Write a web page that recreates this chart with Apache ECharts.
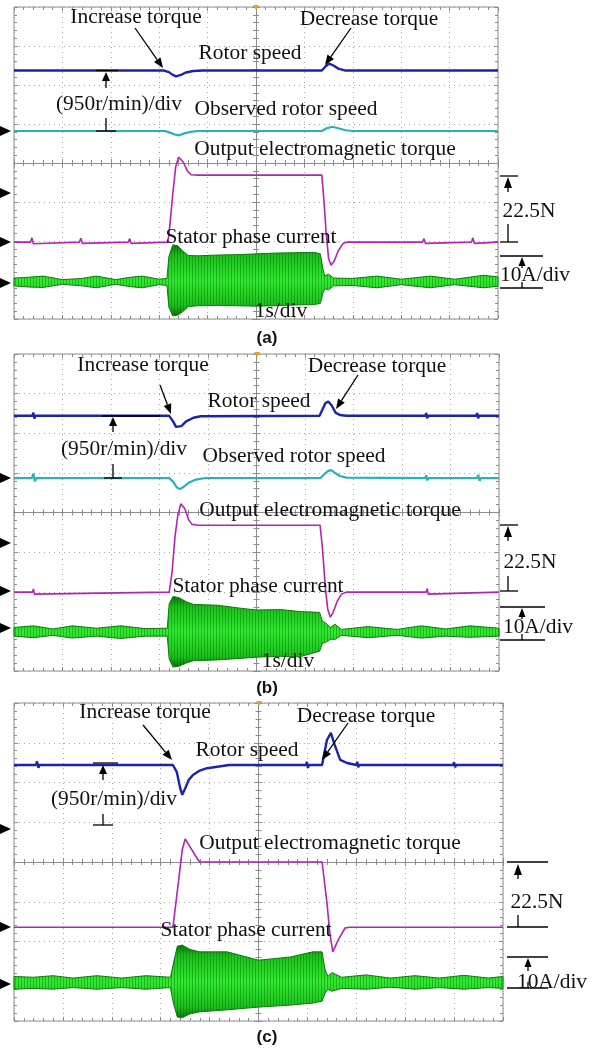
<!DOCTYPE html>
<html>
<head>
<meta charset="utf-8">
<script src="https://cdn.jsdelivr.net/npm/echarts@6/dist/echarts.min.js"></script>
<style>
html, body { margin: 0; padding: 0; background: #fff; }
#chart { width: 594px; height: 1048px; }
</style>
</head>
<body>
<div id="chart"></div>
<script>
// time in s (1 s/div, 0 = screen centre), values in scope divisions (0 = centre line)

// ---- (a)
var speedA = [[-5, 2.37], [-1.9, 2.37], [-1.8, 2.33], [-1.72, 2.26], [-1.65, 2.22], [-1.55, 2.26], [-1.45, 2.32], [-1.3, 2.36], [-1.1, 2.37],
  [1.36, 2.37], [1.44, 2.48], [1.51, 2.55], [1.6, 2.5], [1.7, 2.42], [1.85, 2.37], [5, 2.37]];
var observedA = [[-5, 0.82], [-1.88, 0.82], [-1.78, 0.78], [-1.68, 0.73], [-1.59, 0.71], [-1.48, 0.76], [-1.35, 0.8], [-1.2, 0.82],
  [1.36, 0.82], [1.46, 0.89], [1.58, 0.93], [1.7, 0.89], [1.85, 0.84], [2.0, 0.82], [5, 0.82]];
var torqueA = [[-5, -2.03], [-4.66, -2.03], [-4.63, -1.92], [-4.6, -2.07], [-4.57, -2.03], [-3.65, -2.03], [-3.62, -1.93], [-3.59, -2.06],
  [-3.56, -2.03], [-2.64, -2.03], [-2.61, -1.94], [-2.58, -2.06], [-2.55, -2.03], [-1.82, -2.03], [-1.78, -1.6], [-1.72, -0.8],
  [-1.66, -0.1], [-1.6, 0.15], [-1.56, 0.18], [-1.5, 0.02], [-1.42, -0.2], [-1.34, -0.3], [-1.2, -0.31], [1.36, -0.31],
  [1.4, -0.9], [1.45, -1.8], [1.5, -2.45], [1.55, -2.62], [1.62, -2.5], [1.7, -2.25], [1.8, -2.06], [1.88, -2.03], [3.44, -2.03],
  [3.47, -1.94], [3.5, -2.06], [3.53, -2.03], [4.45, -2.03], [4.48, -1.92], [4.51, -2.06], [4.54, -2.03], [5, -2.03]];
// [time, upper envelope, lower envelope]
var currentA = [[-5, -2.95, -3.15], [-4.7, -2.93, -3.18], [-4.4, -2.9, -3.19], [-4.0, -2.99, -3.11], [-3.6, -2.96, -3.15],
  [-3.3, -2.9, -3.2], [-2.9, -2.99, -3.11], [-2.6, -2.93, -3.17], [-2.35, -2.9, -3.2], [-2.0, -2.98, -3.12], [-1.84, -2.96, -3.14],
  [-1.8, -2.4, -3.7], [-1.72, -2.1, -3.92], [-1.62, -2.12, -3.9], [-1.52, -2.25, -3.82], [-1.4, -2.37, -3.68], [-1.2, -2.38, -3.66],
  [-0.8, -2.36, -3.65], [-0.4, -2.35, -3.66], [0, -2.33, -3.67], [0.4, -2.31, -3.66], [0.8, -2.3, -3.64], [1.2, -2.29, -3.63],
  [1.33, -2.33, -3.6], [1.38, -2.7, -3.35], [1.42, -2.9, -3.22], [1.5, -2.85, -3.25], [1.6, -2.95, -3.15], [2.0, -2.96, -3.14],
  [2.5, -2.9, -3.2], [3.0, -2.98, -3.12], [3.6, -2.9, -3.2], [4.1, -2.98, -3.12], [4.7, -2.88, -3.2], [5, -2.92, -3.16]];

// ---- (b)
var speedB = [[-5, 2.44], [-4.62, 2.44], [-4.6, 2.52], [-4.58, 2.37], [-4.56, 2.44], [-1.8, 2.44], [-1.72, 2.3], [-1.66, 2.16],
  [-1.62, 2.12], [-1.55, 2.18], [-1.45, 2.3], [-1.3, 2.39], [-1.15, 2.43], [1.3, 2.44], [1.36, 2.6], [1.42, 2.76], [1.48, 2.8],
  [1.55, 2.7], [1.63, 2.52], [1.72, 2.46], [1.85, 2.44], [3.48, 2.44], [3.5, 2.51], [3.52, 2.38], [3.54, 2.44], [4.53, 2.44],
  [4.55, 2.51], [4.57, 2.38], [4.59, 2.44], [5, 2.44]];
var observedB = [[-5, 0.87], [-4.63, 0.87], [-4.6, 0.98], [-4.57, 0.79], [-4.54, 0.87], [-1.8, 0.87], [-1.72, 0.78], [-1.64, 0.63],
  [-1.58, 0.59], [-1.5, 0.65], [-1.4, 0.75], [-1.25, 0.83], [-1.05, 0.87], [1.32, 0.87], [1.4, 0.97], [1.48, 1.05], [1.54, 1.07],
  [1.62, 1.0], [1.72, 0.92], [1.85, 0.88], [3.48, 0.87], [3.5, 0.94], [3.52, 0.81], [3.55, 0.87], [4.55, 0.87], [4.57, 0.95],
  [4.6, 0.8], [4.62, 0.87], [5, 0.87]];
var torqueB = [[-5, -2.01], [-4.62, -2.01], [-4.6, -1.93], [-4.58, -2.06], [-4.56, -2.01], [-1.8, -2.01], [-1.74, -1.5], [-1.68, -0.6],
  [-1.62, -0.05], [-1.56, 0.22], [-1.53, 0.27], [-1.48, 0.1], [-1.4, -0.18], [-1.33, -0.3], [-1.2, -0.32], [1.31, -0.32],
  [1.36, -0.9], [1.42, -1.9], [1.47, -2.45], [1.52, -2.64], [1.58, -2.52], [1.66, -2.25], [1.75, -2.06], [1.85, -2.01],
  [3.5, -2.01], [3.52, -1.92], [3.54, -2.06], [3.56, -2.01], [5, -2.01]];
var currentB = [[-5, -2.9, -3.12], [-4.6, -2.86, -3.16], [-4.2, -2.94, -3.1], [-3.8, -2.86, -3.17], [-3.3, -2.92, -3.12],
  [-2.8, -2.86, -3.18], [-2.3, -2.93, -3.12], [-1.84, -2.92, -3.12], [-1.8, -2.3, -3.7], [-1.72, -2.12, -3.9], [-1.6, -2.15, -3.88],
  [-1.45, -2.25, -3.8], [-1.3, -2.32, -3.74], [-0.8, -2.34, -3.72], [-0.3, -2.42, -3.68], [0, -2.46, -3.65], [0.5, -2.45, -3.63],
  [0.9, -2.5, -3.64], [1.3, -2.52, -3.5], [1.36, -2.75, -3.3], [1.42, -2.78, -3.28], [1.52, -2.9, -3.2], [1.62, -2.82, -3.2],
  [1.75, -2.95, -3.1], [2.3, -2.88, -3.16], [2.9, -2.95, -3.1], [3.4, -2.86, -3.17], [3.9, -2.94, -3.12], [4.4, -2.86, -3.15],
  [5, -2.92, -3.12]];

// ---- (c)
var speedC = [[-5, 2.44], [-4.55, 2.44], [-4.53, 2.53], [-4.5, 2.37], [-4.48, 2.44], [-1.75, 2.44], [-1.67, 2.26], [-1.6, 1.85],
  [-1.56, 1.69], [-1.5, 1.85], [-1.43, 2.06], [-1.34, 2.19], [-1.2, 2.3], [-1.05, 2.36], [-0.6, 2.44], [0.97, 2.44], [0.99, 2.52],
  [1.01, 2.37], [1.03, 2.44], [1.3, 2.44], [1.4, 3.07], [1.48, 3.25], [1.56, 2.94], [1.67, 2.57], [1.81, 2.49], [2.0, 2.44],
  [2.02, 2.52], [2.04, 2.38], [2.06, 2.44], [3.98, 2.44], [4.0, 2.51], [4.02, 2.38], [4.04, 2.44], [5, 2.44]];
var torqueC = [[-5, -1.64], [-1.75, -1.64], [-1.65, -0.63], [-1.56, 0.3], [-1.5, 0.58], [-1.4, 0.38], [-1.26, 0.1], [-1.2, 0.0],
  [1.3, 0.0], [1.4, -1.03], [1.46, -1.8], [1.52, -2.26], [1.63, -1.96], [1.77, -1.66], [1.87, -1.64], [5, -1.64]];
var currentC = [[-5, -2.88, -3.2], [-4.6, -2.9, -3.18], [-4.2, -2.86, -3.2], [-3.8, -2.92, -3.16], [-3.3, -2.86, -3.2],
  [-2.8, -2.92, -3.16], [-2.3, -2.86, -3.2], [-1.8, -2.9, -3.16], [-1.75, -2.6, -3.5], [-1.66, -2.12, -3.9], [-1.56, -2.09, -3.92],
  [-1.4, -2.2, -3.82], [-1.2, -2.26, -3.77], [-0.64, -2.26, -3.72], [0, -2.47, -3.65], [0.65, -2.39, -3.6], [1.11, -2.26, -3.55],
  [1.3, -2.26, -3.5], [1.36, -2.7, -3.3], [1.42, -2.88, -3.2], [1.5, -2.78, -3.25], [1.7, -2.9, -3.18], [2.2, -2.84, -3.2],
  [2.7, -2.92, -3.15], [3.2, -2.86, -3.2], [3.7, -2.92, -3.16], [4.2, -2.85, -3.2], [4.7, -2.92, -3.16], [5, -2.88, -3.18]];

var panelLabels = ["(a)", "(b)", "(c)"];

var GRIDS = [
  { left: 14, top: 7, width: 484, height: 312 },
  { left: 14, top: 354, width: 485, height: 317 },
  { left: 14, top: 703, width: 489, height: 318 }
];
var C_SPEED = "#1b23ad", C_OBS = "#27b2b8", C_TORQUE = "#b324b3", C_GRID = "#8c8c8c";
var SERIF = '"Liberation Serif", "Times New Roman", serif';

// vertical striping for the dense current waveform
var stripe = document.createElement("canvas");
stripe.width = 3; stripe.height = 4;
(function () {
  var ctx = stripe.getContext("2d");
  ctx.fillStyle = "rgba(8,95,8,0.38)";
  ctx.fillRect(0, 0, 1, 4);
})();

function axisSet(dim, gi) {
  var isX = dim === "x";
  var base = {
    type: "value", gridIndex: gi,
    min: isX ? -5 : -4, max: isX ? 5 : 4, interval: 1,
    axisLabel: { show: false },
    axisTick: { show: true, inside: true, length: 4, lineStyle: { color: C_GRID } },
    minorTick: { show: true, splitNumber: 5, length: 3, lineStyle: { color: C_GRID } },
    splitLine: { show: false }
  };
  var pos = isX ? ["bottom", "top"] : ["left", "right"];
  return [
    // centre line, with the dotted grid
    Object.assign({}, base, {
      position: pos[0],
      axisLine: { onZero: true, onZeroAxisIndex: gi * 4, lineStyle: { color: C_GRID, width: 1 } },
      splitLine: { show: true, lineStyle: { color: "#a8a8a8", type: [1, 4], width: 1 } }
    }),
    Object.assign({}, base, {
      position: pos[1],
      axisLine: { onZero: true, onZeroAxisIndex: gi * 4, lineStyle: { color: C_GRID, width: 1 } }
    }),
    // frame ticks
    Object.assign({}, base, { position: pos[0], axisLine: { show: false, onZero: false } }),
    Object.assign({}, base, { position: pos[1], axisLine: { show: false, onZero: false } })
  ];
}

function trace(data, gi, color, width) {
  return {
    type: "line", xAxisIndex: gi * 4, yAxisIndex: gi * 4, data: data,
    showSymbol: false, silent: true, z: 4,
    lineStyle: { color: color, width: width }
  };
}

function band(rows, gi) {
  return {
    type: "custom", xAxisIndex: gi * 4, yAxisIndex: gi * 4, data: rows, silent: true, z: 3,
    encode: { x: 0, y: [1, 2] },
    renderItem: function (params, api) {
      if (params.dataIndex !== 0) return null;
      var top = [], bot = [];
      rows.forEach(function (r) {
        top.push(api.coord([r[0], r[1]]));
        bot.push(api.coord([r[0], r[2]]));
      });
      var pts = top.concat(bot.reverse());
      return {
        type: "group",
        children: [{
          type: "polygon",
          shape: { points: pts },
          style: {
            fill: {
              type: "linear", x: 0, y: 0, x2: 0, y2: 1,
              colorStops: [
                { offset: 0, color: "#0b6e0b" }, { offset: 0.15, color: "#1ac01a" },
                { offset: 0.5, color: "#30ec30" }, { offset: 0.85, color: "#1ac01a" },
                { offset: 1, color: "#0b6e0b" }
              ]
            },
            stroke: "#137a13", lineWidth: 1
          }
        }, {
          type: "polygon",
          shape: { points: pts },
          style: { fill: { image: stripe, repeat: "repeat" }, stroke: null }
        }]
      };
    }
  };
}

// ---- annotation helpers (pixel positions)
function txt(x, y, s, size) {
  return {
    type: "text", x: x, y: y, z: 100, scaleX: 1.07,
    style: { text: s, font: (size || 20) + "px " + SERIF, fill: "#111", align: "center", verticalAlign: "middle" }
  };
}
function seg(x1, y1, x2, y2) {
  return { type: "line", z: 100, shape: { x1: x1, y1: y1, x2: x2, y2: y2 }, style: { stroke: "#000", lineWidth: 1.3 } };
}
function arrow(x1, y1, x2, y2, len, w) {
  var a = Math.atan2(y2 - y1, x2 - x1), L = len || 10, W = w || 4;
  var bx = x2 - L * Math.cos(a), by = y2 - L * Math.sin(a);
  var px = -Math.sin(a) * W, py = Math.cos(a) * W;
  return [
    seg(x1, y1, bx, by),
    { type: "polygon", z: 100, shape: { points: [[x2, y2], [bx + px, by + py], [bx - px, by - py]] }, style: { fill: "#000" } }
  ];
}
function marker(y) {
  return { type: "polygon", z: 100, shape: { points: [[0, y - 5], [11, y], [0, y + 5]] }, style: { fill: "#000" } };
}
function trig(x, y) {
  return { type: "polygon", z: 100, shape: { points: [[x - 3, y - 2], [x + 3, y - 2], [x, y + 3]] }, style: { fill: "#f0a020" } };
}

var graphics = [];
function add(list) { graphics = graphics.concat(list); }

// (a)
add([txt(136, 18, "Increase torque"), txt(369, 20, "Decrease torque"), txt(250, 54, "Rotor speed"),
  txt(286, 110, "Observed rotor speed"), txt(325, 150, "Output electromagnetic torque"),
  txt(251, 238, "Stator phase current"), txt(281, 312, "1s/div"), txt(119, 105, "(950r/min)/div"),
  marker(131), marker(193), marker(242), marker(283), trig(256, 7)]);
add(arrow(135, 28, 163, 68)); add(arrow(351, 28, 325, 65));
add([seg(96, 70.5, 118, 70.5), seg(106, 118, 106, 131), seg(96, 131, 116, 131)]);
add(arrow(106, 88, 106, 72, 9, 4));
add([seg(500, 176, 518, 176), txt(529, 212, "22.5N"), seg(508, 224, 508, 242), seg(500, 242, 518, 242)]);
add(arrow(508, 192, 508, 177, 11, 4));
add([seg(500, 256, 543, 256), txt(535, 276, "10A/div"), seg(522, 282, 522, 288), seg(500, 288, 543, 288)]);
add(arrow(522, 268, 522, 257, 9, 3.5));

// (b)
add([txt(143, 366, "Increase torque"), txt(377, 367, "Decrease torque"), txt(259, 402, "Rotor speed"),
  txt(294, 457, "Observed rotor speed"), txt(330, 511, "Output electromagnetic torque"),
  txt(258, 587, "Stator phase current"), txt(288, 662, "1s/div"), txt(124, 450, "(950r/min)/div"),
  marker(478), marker(543), marker(591), marker(628), trig(257, 354)]);
add(arrow(160, 385, 171, 414)); add(arrow(358, 375, 336, 409));
add([seg(102, 416, 160, 416), seg(113, 464, 113, 478), seg(104, 478, 122, 478)]);
add(arrow(113, 432, 113, 417, 9, 4));
add([seg(500, 525, 518, 525), txt(530, 563, "22.5N"), seg(508, 576, 508, 591), seg(500, 591, 518, 591)]);
add(arrow(508, 541, 508, 526, 11, 4));
add([seg(500, 607, 545, 607), txt(538, 628, "10A/div"), seg(522, 634, 522, 640), seg(500, 640, 545, 640)]);
add(arrow(522, 619, 522, 608, 9, 3.5));

// (c)
add([txt(145, 713, "Increase torque"), txt(366, 717, "Decrease torque"), txt(247, 751, "Rotor speed"),
  txt(330, 844, "Output electromagnetic torque"), txt(246, 931, "Stator phase current"),
  txt(114, 800, "(950r/min)/div"), marker(829), marker(927), marker(984), trig(259, 703)]);
add(arrow(143, 725, 172, 760)); add(arrow(348, 723, 322, 760));
add([seg(93, 763, 118, 763), seg(103, 814, 103, 825), seg(93, 825, 113, 825)]);
add(arrow(103, 780, 103, 765, 9, 4));
add([seg(507, 862, 548, 862), txt(537, 903, "22.5N"), seg(518, 915, 518, 927), seg(507, 927, 548, 927)]);
add(arrow(518, 879, 518, 864, 11, 4));
add([seg(507, 957, 548, 957), txt(552, 983, "10A/div"), seg(528, 982, 528, 988), seg(507, 988, 548, 988)]);
add(arrow(528, 971, 528, 958, 9, 3.5));

// panel captions
[338, 688, 1037].forEach(function (y, i) {
  graphics.push({
    type: "text", x: 267, y: y, z: 100,
    style: { text: panelLabels[i], font: 'bold 17px "Liberation Sans", Arial, sans-serif', fill: "#111", align: "center", verticalAlign: "middle" }
  });
});

var xAxis = [], yAxis = [];
GRIDS.forEach(function (g, gi) {
  xAxis = xAxis.concat(axisSet("x", gi));
  yAxis = yAxis.concat(axisSet("y", gi));
});

var series = [
  band(currentA, 0), trace(torqueA, 0, C_TORQUE, 1.6), trace(observedA, 0, C_OBS, 2.2), trace(speedA, 0, C_SPEED, 2.4),
  band(currentB, 1), trace(torqueB, 1, C_TORQUE, 1.6), trace(observedB, 1, C_OBS, 2.2), trace(speedB, 1, C_SPEED, 2.4),
  band(currentC, 2), trace(torqueC, 2, C_TORQUE, 1.6), trace(speedC, 2, C_SPEED, 2.4)
];

var chart = echarts.init(document.getElementById("chart"));
chart.setOption({
  animation: false,
  backgroundColor: "#fff",
  grid: GRIDS.map(function (g) {
    return Object.assign({ show: true, borderColor: C_GRID, borderWidth: 1, backgroundColor: "transparent", containLabel: false }, g);
  }),
  xAxis: xAxis,
  yAxis: yAxis,
  series: series,
  graphic: graphics
});
</script>
</body>
</html>
